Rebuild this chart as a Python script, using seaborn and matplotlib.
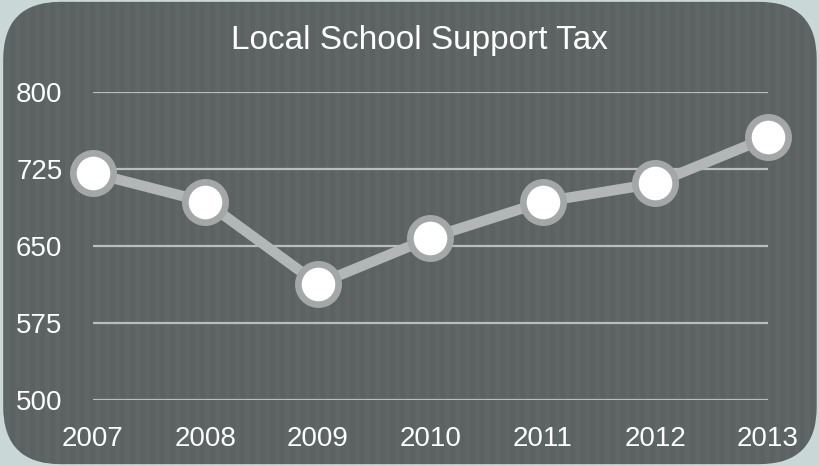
import numpy as np
import pandas as pd
import matplotlib
matplotlib.use('Agg')
import matplotlib.pyplot as plt
from matplotlib.patches import FancyBboxPatch, Rectangle
import seaborn as sns

# chart data
years = [2007, 2008, 2009, 2010, 2011, 2012, 2013]
tax = [721, 693, 613, 658, 693, 711, 756]
y_ticks = [500, 575, 650, 725, 800]
title = 'Local School Support Tax'

df = pd.DataFrame({'year': years, 'tax': tax})

sns.set_style('white')
plt.rcParams['font.family'] = ['Liberation Sans', 'DejaVu Sans']

fig = plt.figure(figsize=(8.2, 4.66), dpi=100)
fig.patch.set_facecolor('#c9d8d6')

# rounded dark panel
panel = FancyBboxPatch((0.004, 0.004), 0.992, 0.992, boxstyle='round,pad=0,rounding_size=0.07',
                       transform=fig.transFigure, facecolor='#5f6666', edgecolor='none',
                       mutation_aspect=820 / 466, zorder=-2)
fig.patches.append(panel)

# subtle vertical stripes, clipped to the panel
for i, xs in enumerate(np.arange(0.0, 1.0, 10 / 820)):
    r = Rectangle((xs, 0.0), 5 / 820, 1.0, transform=fig.transFigure,
                  facecolor='#565c5c', alpha=0.3, edgecolor='none', zorder=-1)
    r.set_clip_path(panel)
    fig.patches.append(r)

ax = fig.add_axes([93 / 820, 1 - 400 / 466, 675 / 820, 308 / 466])
ax.set_facecolor('none')
ax.set_zorder(2)

for t in y_ticks:
    ax.axhline(t, color='#b9bdbd', linewidth=1.6, zorder=1)

sns.lineplot(data=df, x='year', y='tax', ax=ax, color='#b3b6b6', linewidth=7.5,
             marker='o', markersize=29, markerfacecolor='white',
             markeredgecolor='#a3a7a7', markeredgewidth=4.8, clip_on=False, zorder=3)

ax.set_xlim(2007, 2013)
ax.set_ylim(500, 800)
ax.set_xticks(years)
ax.set_yticks(y_ticks)
ax.set_xticklabels([str(y) for y in years])
ax.tick_params(axis='y', length=0, pad=22, labelsize=20, labelcolor='white')
ax.tick_params(axis='x', length=0, pad=19, labelsize=20, labelcolor='white')
for s in ax.spines.values():
    s.set_visible(False)
ax.set_xlabel('')
ax.set_ylabel('')

fig.text(0.512, 0.914, title, ha='center', va='center', color='white', fontsize=24)

fig.savefig('out.png', dpi=100, facecolor=fig.get_facecolor())
